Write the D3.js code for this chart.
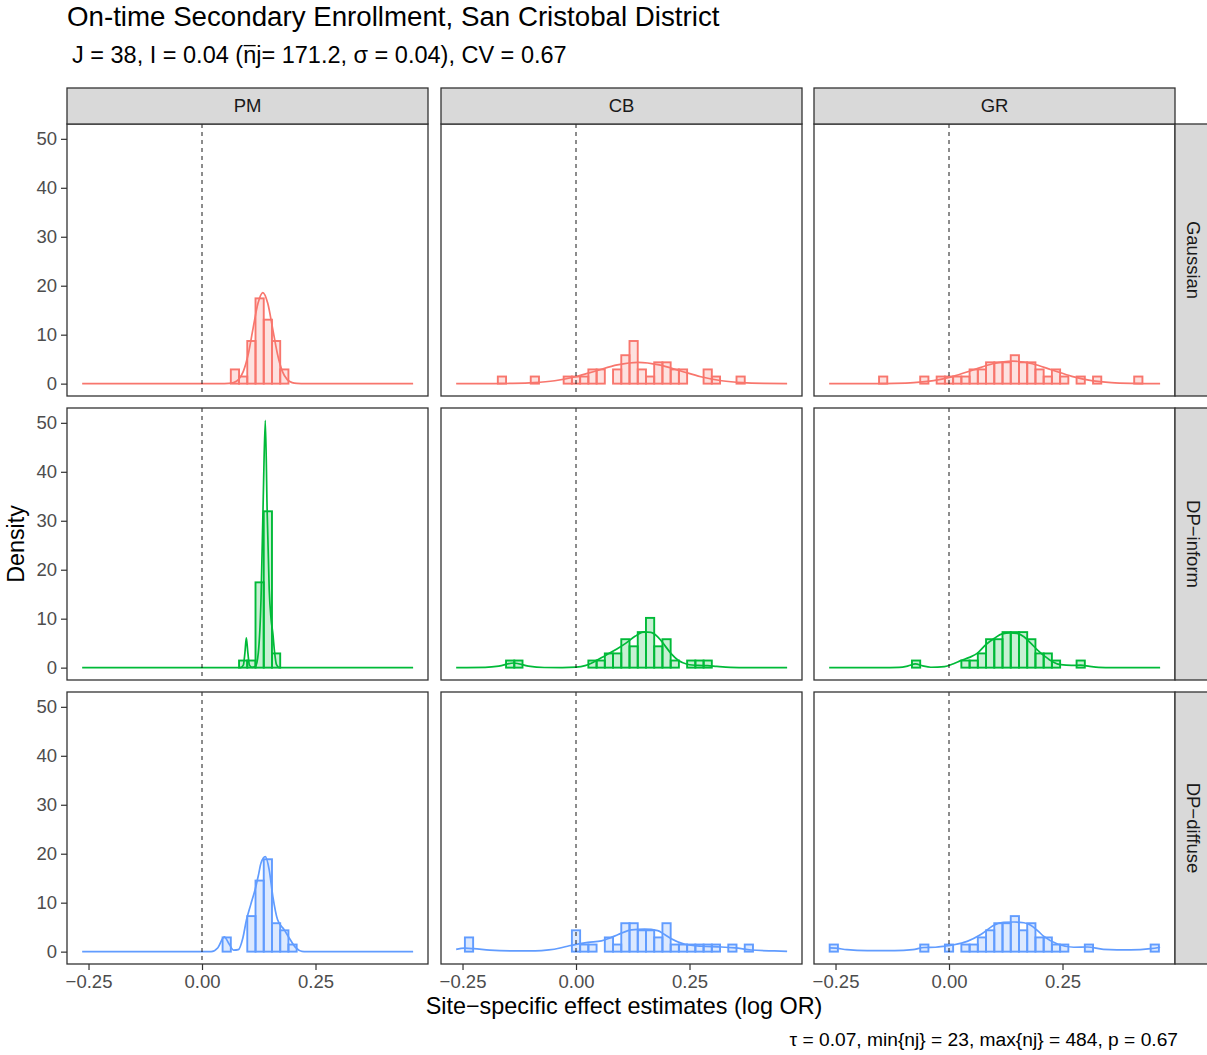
<!DOCTYPE html>
<html>
<head>
<meta charset="utf-8">
<script src="https://cdn.jsdelivr.net/npm/d3@7"></script>
<style>
  body { margin: 0; background: #fff; }
  text { font-family: "Liberation Sans", Arial, Helvetica, sans-serif; }
</style>
</head>
<body>
<svg id="chart" width="1207" height="1055"></svg>
<script>
// ---- facets, colours, ticks ----
const methods = ["PM", "CB", "GR"];
const models = ["Gaussian", "DP\u2212inform", "DP\u2212diffuse"];
const modelColors = ["#F8766D", "#00BA38", "#619CFF"];
const xTicks = [-0.25, 0, 0.25];
const yTicks = [0, 10, 20, 30, 40, 50];
const nSites = 38;
const binWidth = 0.01813;           // histogram bins are centred on k * binWidth

// ---- histogram counts: [bin index k, number of sites] ----
const binsGaussPM = [[4,2],[5,1],[6,6],[7,12],[8,9],[9,6],[10,2]];
const binsGaussCB = [[-9,1],[-5,1],[-1,1],[0,1],[1,1],[2,2],[3,2],[5,2],[6,4],[7,6],[8,2],[9,1],[10,3],[11,3],[12,2],[13,2],[16,2],[17,1],[20,1]];
const binsGaussGR = [[-8,1],[-3,1],[-1,1],[0,1],[1,1],[2,1],[3,2],[4,2],[5,3],[6,3],[7,3],[8,4],[9,3],[10,3],[11,2],[12,1],[13,2],[14,1],[16,1],[18,1],[23,1]];
const binsInformPM = [[5,1],[6,1],[7,12],[8,22],[9,2]];
const binsInformCB = [[-8,1],[-7,1],[2,1],[3,1],[4,2],[5,2],[6,4],[7,3],[8,5],[9,7],[10,3],[11,4],[12,1],[14,1],[15,1],[16,1]];
const binsInformGR = [[-4,1],[2,1],[3,1],[4,2],[5,4],[6,4],[7,5],[8,5],[9,5],[10,4],[11,2],[12,2],[13,1],[16,1]];
const binsDiffusePM = [[3,2],[6,5],[7,10],[8,13],[9,4],[10,3],[11,1]];
const binsDiffuseCB = [[-13,2],[0,3],[1,1],[2,1],[4,2],[5,1],[6,4],[7,4],[8,3],[9,3],[10,2],[11,4],[12,1],[13,1],[14,1],[15,1],[16,1],[17,1],[19,1],[21,1]];
const binsDiffuseGR = [[-14,1],[-3,1],[0,1],[2,1],[3,1],[4,2],[5,3],[6,4],[7,4],[8,5],[9,3],[10,4],[11,2],[12,2],[13,1],[14,1],[17,1],[25,1]];

// ---- estimated effect distributions G: [effect, density] ----
const curveGaussPM = [[-0.264,0],[0.04,0],[0.0588,0.04],[0.0695,0.21],[0.0803,0.82],[0.091,2.5],[0.1018,6.0],[0.1125,11.3],[0.1233,16.4],[0.134,18.6],[0.1448,16.4],[0.1555,11.3],[0.1663,6.0],[0.177,2.5],[0.1878,0.82],[0.1985,0.21],[0.209,0.04],[0.228,0],[0.465,0]];
const curveGaussCB = [[-0.264,0],[-0.185,0.01],[-0.139,0.048],[-0.093,0.19],[-0.047,0.59],[-0.001,1.41],[0.045,2.64],[0.091,3.84],[0.137,4.35],[0.183,3.84],[0.229,2.64],[0.275,1.41],[0.321,0.59],[0.367,0.19],[0.413,0.048],[0.465,0.008]];
const curveGaussGR = [[-0.264,0],[-0.1645,0.01],[-0.121,0.051],[-0.0775,0.2],[-0.034,0.62],[0.0095,1.49],[0.053,2.79],[0.0965,4.06],[0.14,4.6],[0.1835,4.06],[0.227,2.79],[0.2705,1.49],[0.314,0.62],[0.3575,0.2],[0.401,0.051],[0.4445,0.01],[0.465,0.004]];
const curveInformPM = [[-0.264,0],[0.085,0],[0.091,0.5],[0.0945,3],[0.0976,6.1],[0.101,3],[0.1045,0.5],[0.11,0.05],[0.118,0.3],[0.124,3],[0.130,14],[0.135,35],[0.1394,50.5],[0.1435,32],[0.148,16],[0.152,10],[0.156,7],[0.160,3],[0.164,0.6],[0.17,0],[0.465,0]];
const curveInformCB = [[-0.264,0],[-0.2,0.05],[-0.17,0.3],[-0.137,0.95],[-0.105,0.3],[-0.07,0.03],[-0.03,0.02],[0,0.1],[0.02,0.4],[0.04,1.2],[0.065,2.5],[0.09,3.8],[0.11,5.0],[0.13,6.4],[0.15,7.3],[0.165,7.2],[0.18,6.3],[0.195,4.6],[0.21,2.8],[0.225,1.5],[0.245,0.7],[0.27,0.45],[0.29,0.4],[0.31,0.25],[0.34,0.07],[0.38,0.01],[0.465,0]];
const curveInformGR = [[-0.264,0],[-0.15,0],[-0.11,0.05],[-0.09,0.35],[-0.074,0.75],[-0.058,0.35],[-0.04,0.08],[-0.01,0.2],[0.01,0.8],[0.026,1.43],[0.045,2.1],[0.062,2.9],[0.08,4.6],[0.1,6.0],[0.117,6.9],[0.135,7.1],[0.15,7.0],[0.165,6.3],[0.18,5.0],[0.195,3.6],[0.21,2.4],[0.228,1.2],[0.246,0.6],[0.27,0.45],[0.29,0.5],[0.31,0.25],[0.33,0.06],[0.36,0],[0.465,0]];
const curveDiffusePM = [[-0.264,0],[0.02,0],[0.035,0.8],[0.049,3.0],[0.06,1.5],[0.07,0.3],[0.08,0.4],[0.09,2.8],[0.098,6.5],[0.107,9.5],[0.117,12.7],[0.124,15.5],[0.130,18.1],[0.1394,19.4],[0.148,16.7],[0.156,11.3],[0.1665,6.5],[0.181,4.5],[0.192,2.8],[0.207,0.75],[0.22,0.05],[0.23,0],[0.465,0]];
const curveDiffuseCB = [[-0.264,0.45],[-0.245,0.7],[-0.225,0.6],[-0.19,0.3],[-0.14,0.15],[-0.09,0.15],[-0.06,0.35],[-0.035,0.75],[-0.015,1.2],[0,1.5],[0.026,1.9],[0.056,2.2],[0.075,2.8],[0.093,3.5],[0.122,4.45],[0.151,4.6],[0.18,4.3],[0.195,3.5],[0.21,2.65],[0.24,1.5],[0.276,1.1],[0.32,0.95],[0.35,0.75],[0.386,0.34],[0.437,0.14],[0.465,0.07]];
const curveDiffuseGR = [[-0.264,0.75],[-0.25,0.7],[-0.225,0.4],[-0.18,0.2],[-0.12,0.2],[-0.08,0.4],[-0.055,0.85],[-0.03,0.9],[-0.01,1.1],[0.011,1.4],[0.04,2.1],[0.07,3.5],[0.099,5.4],[0.12,6.0],[0.143,6.05],[0.165,5.9],[0.18,5.4],[0.195,4.3],[0.209,3.1],[0.239,1.56],[0.275,0.9],[0.305,0.95],[0.34,0.48],[0.4,0.34],[0.444,0.6],[0.465,0.9]];

// row = model, column = method
const histTable = [
  [binsGaussPM, binsGaussCB, binsGaussGR],
  [binsInformPM, binsInformCB, binsInformGR],
  [binsDiffusePM, binsDiffuseCB, binsDiffuseGR]
];
const curveTable = [
  [curveGaussPM, curveGaussCB, curveGaussGR],
  [curveInformPM, curveInformCB, curveInformGR],
  [curveDiffusePM, curveDiffuseCB, curveDiffuseGR]
];

// ---- layout ----
const panelX = [67, 441, 814];
const panelY = [124, 408, 692];
const pw = 361, ph = 272;
const stripH = 36, stripW = 36;
const axisFont = 18.5;

const svg = d3.select("#chart");

const x = d3.scaleLinear().domain([-0.2974, 0.4978]).range([0, pw]);
const y = d3.scaleLinear().domain([-2.525, 53.03]).range([ph, 0]);

const line = d3.line()
  .x(d => x(d[0]))
  .y(d => y(d[1]))
  .curve(d3.curveMonotoneX);

const defs = svg.append("defs");
defs.append("clipPath").attr("id", "panelClip")
  .append("rect").attr("width", pw).attr("height", ph);

models.forEach((model, r) => {
  methods.forEach((method, c) => {
    const col = modelColors[r];
    const g = svg.append("g").attr("transform", `translate(${panelX[c]},${panelY[r]})`);
    const inner = g.append("g").attr("clip-path", "url(#panelClip)");

    inner.selectAll("rect.bar")
      .data(histTable[r][c])
      .join("rect")
      .attr("class", "bar")
      .attr("x", d => x((d[0] - 0.5) * binWidth))
      .attr("width", d => x((d[0] + 0.5) * binWidth) - x((d[0] - 0.5) * binWidth))
      .attr("y", d => y(d[1] / (nSites * binWidth)))
      .attr("height", d => y(0) - y(d[1] / (nSites * binWidth)))
      .attr("fill", col)
      .attr("fill-opacity", 0.22)
      .attr("stroke", col)
      .attr("stroke-width", 1.9);

    inner.append("path")
      .datum(curveTable[r][c])
      .attr("d", line)
      .attr("fill", "none")
      .attr("stroke", col)
      .attr("stroke-width", 1.7);

    inner.append("line")
      .attr("x1", x(0)).attr("x2", x(0))
      .attr("y1", 0).attr("y2", ph)
      .attr("stroke", "#000")
      .attr("stroke-width", 0.9)
      .attr("stroke-dasharray", "4,4");

    g.append("rect")
      .attr("width", pw).attr("height", ph)
      .attr("fill", "none")
      .attr("stroke", "#333333")
      .attr("stroke-width", 1.3);
  });
});

// column strips
methods.forEach((method, c) => {
  const s = svg.append("g").attr("transform", `translate(${panelX[c]},${panelY[0] - stripH})`);
  s.append("rect").attr("width", pw).attr("height", stripH)
    .attr("fill", "#D9D9D9").attr("stroke", "#333333").attr("stroke-width", 1.3);
  s.append("text").attr("x", pw / 2).attr("y", stripH / 2).attr("dy", "0.35em")
    .attr("text-anchor", "middle").attr("font-size", axisFont).attr("fill", "#1A1A1A")
    .text(method);
});

// row strips
models.forEach((model, r) => {
  const sx = panelX[2] + pw;
  const s = svg.append("g").attr("transform", `translate(${sx},${panelY[r]})`);
  s.append("rect").attr("width", stripW).attr("height", ph)
    .attr("fill", "#D9D9D9").attr("stroke", "#333333").attr("stroke-width", 1.3);
  s.append("text")
    .attr("transform", `translate(${stripW / 2},${ph / 2}) rotate(90)`)
    .attr("dy", "0.35em")
    .attr("text-anchor", "middle").attr("font-size", axisFont).attr("fill", "#1A1A1A")
    .text(model);
});

function styleAxis(a) {
  a.select(".domain").remove();
  a.selectAll(".tick line").attr("stroke", "#333333").attr("stroke-width", 1.2);
  a.selectAll(".tick text").attr("fill", "#4D4D4D").attr("font-size", axisFont)
    .attr("font-family", '"Liberation Sans", Arial, Helvetica, sans-serif');
}

// y axes on the left column
panelY.forEach(py => {
  const a = svg.append("g").attr("transform", `translate(${panelX[0]},${py})`)
    .call(d3.axisLeft(y).tickValues(yTicks).tickSize(6).tickPadding(4).tickFormat(d3.format("d")));
  styleAxis(a);
});

// x axes under the bottom row
panelX.forEach(px => {
  const a = svg.append("g").attr("transform", `translate(${px},${panelY[2] + ph})`)
    .call(d3.axisBottom(x).tickValues(xTicks).tickSize(6).tickPadding(5).tickFormat(d3.format(".2f")));
  styleAxis(a);
});

// titles
svg.append("text").attr("x", 67).attr("y", 26)
  .attr("font-size", 27.7).attr("fill", "#000")
  .text("On-time Secondary Enrollment, San Cristobal District");

const subSize = 23.5;
const sub = svg.append("text").attr("x", 72).attr("y", 63)
  .attr("font-size", subSize).attr("fill", "#000")
  .text("J = 38, I = 0.04 (nj= 171.2, \u03C3 = 0.04), CV = 0.67");
// overline on the "n" of mean site size
{
  const node = sub.node();
  const idx = node.textContent.indexOf("(n") + 1;
  const p0 = node.getStartPositionOfChar(idx);
  const p1 = node.getEndPositionOfChar(idx);
  svg.append("line")
    .attr("x1", p0.x + 0.5).attr("x2", p1.x - 0.5)
    .attr("y1", 63 - subSize * 0.74).attr("y2", 63 - subSize * 0.74)
    .attr("stroke", "#000").attr("stroke-width", 1.3);
}

svg.append("text")
  .attr("transform", `translate(24,${(panelY[0] + panelY[2] + ph) / 2}) rotate(-90)`)
  .attr("text-anchor", "middle").attr("font-size", 23.3).attr("fill", "#000")
  .text("Density");

svg.append("text")
  .attr("x", 624).attr("y", 1014)
  .attr("text-anchor", "middle").attr("font-size", 23.4).attr("fill", "#000")
  .text("Site\u2212specific effect estimates (log OR)");

svg.append("text")
  .attr("x", 1178).attr("y", 1046)
  .attr("text-anchor", "end").attr("font-size", 19.2).attr("fill", "#000")
  .text("\u03C4 = 0.07, min{nj} = 23, max{nj} = 484, p = 0.67");
</script>
</body>
</html>
